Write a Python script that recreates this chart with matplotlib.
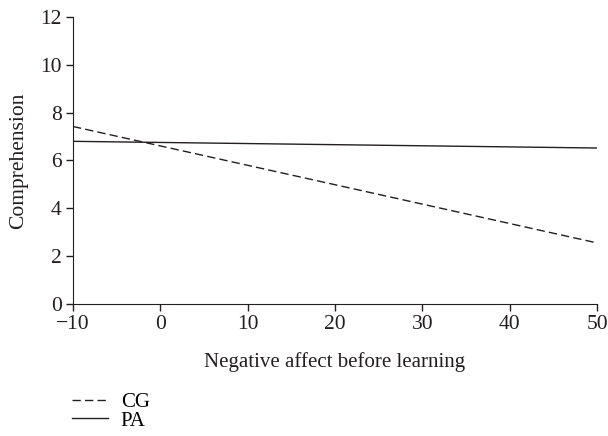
import numpy as np
import matplotlib.pyplot as plt

plt.rcParams['font.family'] = ['Liberation Serif', 'DejaVu Serif']

# endpoints of the two regression lines
x_vals = [-10, 50]
cg_vals = [7.42, 2.55]
pa_vals = [6.80, 6.52]
xticks = [-10, 0, 10, 20, 30, 40, 50]
yticks = [0, 2, 4, 6, 8, 10, 12]

fig = plt.figure(figsize=(6.08, 4.36), dpi=100)
ax = fig.add_axes([0.12, 0.303, 0.862, 0.658])

l1, = ax.plot(x_vals, cg_vals, color='#231f20', lw=1.0, ls=(0, (6, 3)), label='CG')
l2, = ax.plot(x_vals, pa_vals, color='#231f20', lw=1.0, ls='-', label='PA')

ax.set_xlim(-10, 50)
ax.set_ylim(0, 12)
ax.set_xticks(xticks)
ax.set_yticks(yticks)
ax.set_xticklabels(['\u221210' if t < 0 else str(t) for t in xticks])
ax.tick_params(labelsize=15.5, length=5, width=1, pad=3, color='#231f20', labelcolor='#231f20')
ax.spines['top'].set_visible(False)
ax.spines['right'].set_visible(False)
for s in ['left', 'bottom']:
    ax.spines[s].set_color('#231f20')
ax.set_xlabel('Negative affect before learning', fontsize=15, color='#231f20', labelpad=13)
ax.set_ylabel('Comprehension', fontsize=15.5, color='#231f20', labelpad=9)

fig.legend(handles=[l1, l2], loc='upper left', bbox_to_anchor=(0.118, 0.1),
           frameon=False, fontsize=15, handlelength=1.75, handletextpad=0.6,
           labelspacing=-0.05, borderaxespad=0, borderpad=0)

fig.savefig('out.png', dpi=100)
